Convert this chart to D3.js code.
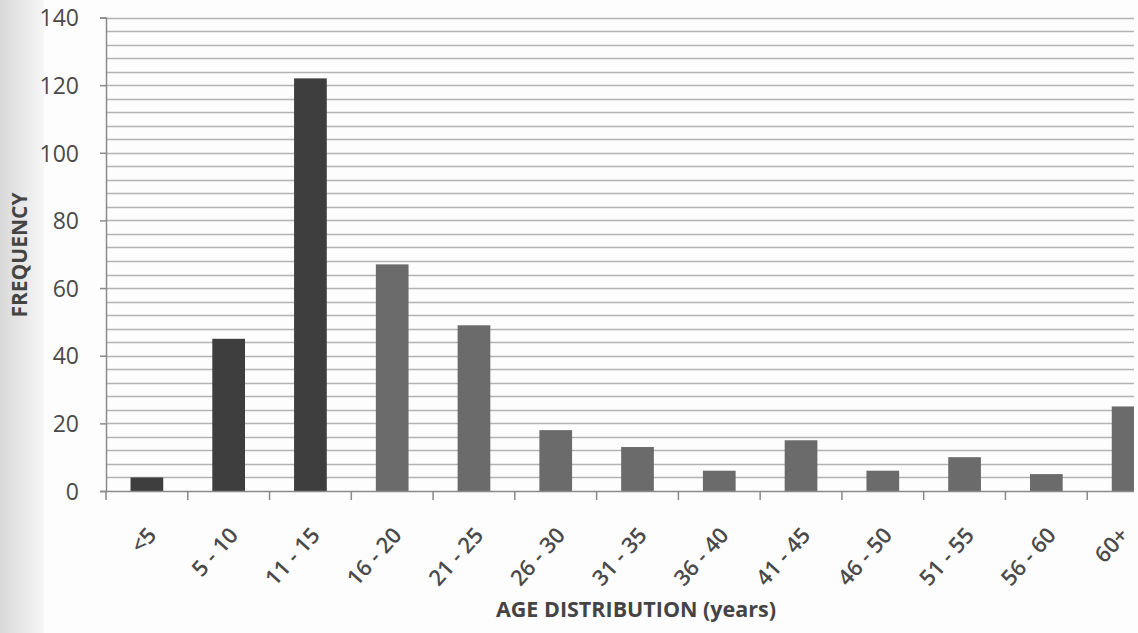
<!DOCTYPE html>
<html><head><meta charset="utf-8">
<script src="https://cdn.jsdelivr.net/npm/d3@7/dist/d3.min.js"></script>
<style>html,body{margin:0;padding:0;background:#fff;}svg{display:block;}</style>
</head><body>
<svg id="chart" width="1138" height="633"></svg>
<script>
const categories = ["<5","5 - 10","11 - 15","16 - 20","21 - 25","26 - 30","31 - 35","36 - 40","41 - 45","46 - 50","51 - 55","56 - 60","60+"];
const frequency = [4,45,122,67,49,18,13,6,15,6,10,5,25];
const darkGroup = ["<5","5 - 10","11 - 15"];
const yMajorTicks = [0,20,40,60,80,100,120,140];
const yMinorStep = 4;

(function(){
const svg = d3.select("#chart");
const W = 1138, H = 633;
const mLeft = 106, mTop = 17.5, mBottom = 491, plotRight = 1169, clipRight = 1134;

const defs = svg.append("defs");
const g1 = defs.append("linearGradient").attr("id","shade").attr("x1",0).attr("x2",1).attr("y1",0).attr("y2",0);
g1.append("stop").attr("offset","0%").attr("stop-color","#d9d9d9");
g1.append("stop").attr("offset","100%").attr("stop-color","#f6f6f6");
svg.append("rect").attr("x",0).attr("y",0).attr("width",W).attr("height",H).attr("fill","#fdfdfd");
svg.append("rect").attr("x",0).attr("y",0).attr("width",44).attr("height",H).attr("fill","url(#shade)");
defs.append("clipPath").attr("id","plotclip").append("rect")
  .attr("x",0).attr("y",0).attr("width",clipRight).attr("height",H);

const x = d3.scaleBand().domain(categories).range([mLeft, plotRight]).paddingInner(0.6).paddingOuter(0.3);
const y = d3.scaleLinear().domain([0,140]).range([mBottom, mTop]);

const plot = svg.append("g").attr("clip-path","url(#plotclip)");

const gridVals = d3.range(yMinorStep, 140 + 0.001, yMinorStep);
plot.selectAll("line.grid").data(gridVals).join("line").attr("class","grid")
  .attr("x1", mLeft).attr("x2", plotRight)
  .attr("y1", d => Math.round(y(d)) + 0.5).attr("y2", d => Math.round(y(d)) + 0.5)
  .attr("stroke", "#b3b3b3").attr("stroke-width", 1.3);

plot.selectAll("rect.bar").data(categories).join("rect").attr("class","bar")
  .attr("x", d => x(d)).attr("width", x.bandwidth())
  .attr("y", (d,i) => y(frequency[i])).attr("height", (d,i) => y(0) - y(frequency[i]))
  .attr("fill", d => darkGroup.includes(d) ? "#3e3e3e" : "#6b6b6b");

plot.append("line").attr("x1", mLeft).attr("x2", plotRight).attr("y1", mBottom+0.5).attr("y2", mBottom+0.5)
  .attr("stroke","#8a8a8a").attr("stroke-width",1.5);
const bounds = d3.range(categories.length + 1).map(i => x.range()[0] + i * x.step());
plot.selectAll("line.xt").data(bounds).join("line").attr("class","xt")
  .attr("x1", d => d).attr("x2", d => d).attr("y1", mBottom).attr("y2", mBottom + 9)
  .attr("stroke","#8a8a8a").attr("stroke-width",1.5);

const yAxis = d3.axisLeft(y).tickValues(yMajorTicks).tickSize(6).tickPadding(21);
const ya = svg.append("g").attr("transform", `translate(${mLeft},0)`).call(yAxis);
ya.select(".domain").attr("stroke","#8a8a8a").attr("stroke-width",1.5);
ya.selectAll(".tick line").attr("stroke","#8a8a8a").attr("stroke-width",1.5);
ya.selectAll(".tick text").attr("font-family","'Open Sans', sans-serif").attr("font-size",23)
  .attr("fill","#4a4a4a").attr("dy","0.36em");

svg.selectAll("text.xl").data(categories).join("text").attr("class","xl")
  .attr("transform", d => `translate(${Math.min(x(d) + x.bandwidth()/2 + 5, 1124)},${mBottom + 40}) rotate(-48)`)
  .attr("text-anchor","end").attr("dy","0.35em")
  .attr("font-family","'Open Sans', sans-serif").attr("font-size",22).attr("font-weight",600)
  .attr("fill","#4a4a4a").text(d => d);

svg.append("text").attr("x", 636).attr("y", 617).attr("text-anchor","middle")
  .attr("font-family","'Open Sans', sans-serif").attr("font-size",21.5).attr("font-weight",700)
  .attr("fill","#444").text("AGE DISTRIBUTION (years)");
svg.append("text").attr("transform","translate(27,255) rotate(-90)").attr("text-anchor","middle")
  .attr("font-family","'Open Sans', sans-serif").attr("font-size",21).attr("font-weight",700)
  .attr("fill","#444").text("FREQUENCY");
})();
</script>
</body></html>
